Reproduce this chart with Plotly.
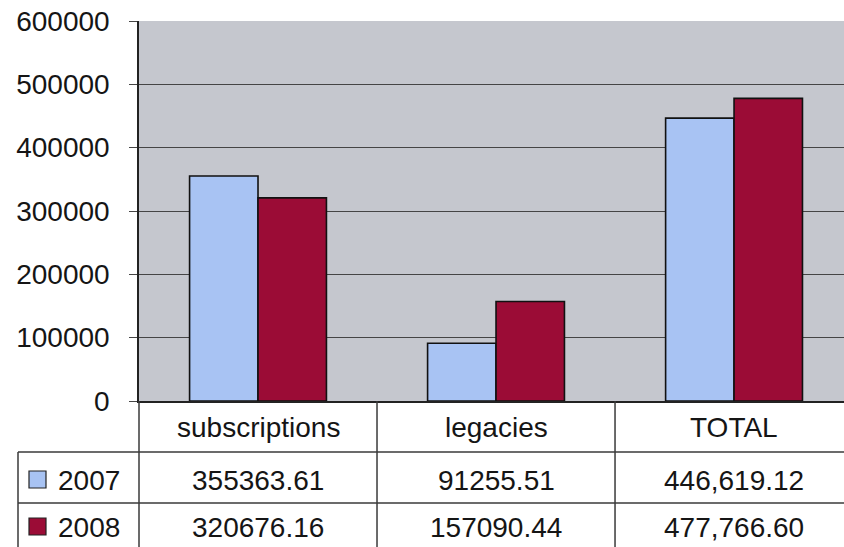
import plotly.graph_objects as go

categories = ["subscriptions", "legacies", "TOTAL"]
series_names = ["2007", "2008"]
values_2007 = [355363.61, 91255.51, 446619.12]
values_2008 = [320676.16, 157090.44, 477766.60]
series_values = [values_2007, values_2008]
series_colors = ["#a8c3f3", "#9b0c36"]
y_ticks = [0, 100000, 200000, 300000, 400000, 500000, 600000]

FONT = "Liberation Sans, Arial, sans-serif"
FS = 28
W, H = 844, 547
ML, MR, MT, MB = 139, 0, 21, 146
plot_h = H - MT - MB
plot_w = W - ML - MR


def py(pix):
    return (H - MB - pix) / plot_h


def px(pix):
    return (pix - ML) / plot_w


def fmt(cat, v):
    return f"{v:,.2f}" if cat == "TOTAL" else f"{v:.2f}"


fig = go.Figure()
for name, vals, col in zip(series_names, series_values, series_colors):
    fig.add_trace(go.Bar(
        x=categories, y=vals, name=name,
        marker=dict(color=col, line=dict(color="#111111", width=1.6)),
        showlegend=False,
    ))

shapes = []
annotations = []
line_col = "#3a3a3a"
bottom = py(560)
for ypix in (452, 503):
    shapes.append(dict(type="line", xref="paper", yref="paper",
                       x0=px(18), x1=1.0, y0=py(ypix), y1=py(ypix),
                       line=dict(color=line_col, width=1.5)))
shapes.append(dict(type="line", xref="paper", yref="paper",
                   x0=px(18), x1=px(18), y0=py(452), y1=bottom,
                   line=dict(color=line_col, width=1.5)))
shapes.append(dict(type="line", xref="paper", yref="paper",
                   x0=0, x1=0, y0=0, y1=bottom,
                   line=dict(color=line_col, width=1.5)))
for b in (0.5, 1.5):
    shapes.append(dict(type="line", xref="x", yref="paper",
                       x0=b, x1=b, y0=0, y1=bottom,
                       line=dict(color=line_col, width=1.5)))

for c in categories:
    annotations.append(dict(x=c, xref="x", y=py(427), yref="paper",
                            text=c, showarrow=False, xanchor="center", yanchor="middle",
                            font=dict(family=FONT, size=FS, color="#151515")))

row_y = [480, 527]
for name, vals, col, ry in zip(series_names, series_values, series_colors, row_y):
    shapes.append(dict(type="rect", xref="paper", yref="paper",
                       x0=px(29), x1=px(46), y0=py(ry + 8), y1=py(ry - 9),
                       fillcolor=col, line=dict(color="#222222", width=1.2)))
    annotations.append(dict(x=px(56), xref="paper", y=py(ry), yref="paper",
                            text=name, showarrow=False, xanchor="left", yanchor="middle",
                            font=dict(family=FONT, size=FS, color="#151515")))
    for c, v in zip(categories, vals):
        annotations.append(dict(x=c, xref="x", y=py(ry), yref="paper",
                                text=fmt(c, v), showarrow=False, xanchor="center",
                                yanchor="middle",
                                font=dict(family=FONT, size=FS, color="#151515")))

fig.update_layout(
    width=W, height=H,
    margin=dict(l=ML, r=MR, t=MT, b=MB),
    paper_bgcolor="white",
    plot_bgcolor="#c5c7ce",
    barmode="group",
    bargap=0.425,
    bargroupgap=0,
    font=dict(family=FONT, size=FS, color="#151515"),
    shapes=shapes,
    annotations=annotations,
)
fig.update_xaxes(
    type="category",
    range=[-0.5, 2.462],
    showticklabels=False,
    showgrid=False,
    showline=True, linecolor="#222222", linewidth=1.5,
    ticks="",
)
fig.update_yaxes(
    range=[0, 600000],
    tickvals=y_ticks,
    ticktext=[str(t) for t in y_ticks],
    showgrid=True, gridcolor="#454545", gridwidth=1.4,
    zeroline=False,
    showline=True, linecolor="#222222", linewidth=1.5,
    ticks="outside", ticklen=8, tickcolor="#454545", tickwidth=1.3,
    ticklabelstandoff=14,
    tickfont=dict(family=FONT, size=FS, color="#151515"),
)

fig.write_html(
    "out.html",
    config={"displayModeBar": False},
    post_script="document.body.style.margin='0';document.body.style.overflow='hidden';",
)
